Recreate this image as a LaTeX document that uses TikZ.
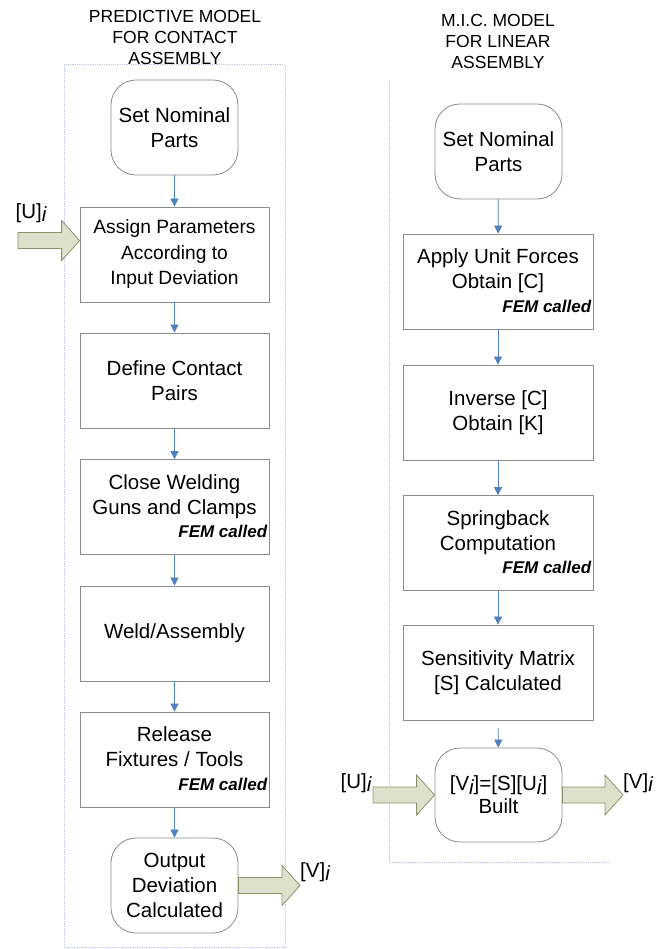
\documentclass[tikz,border=0pt]{standalone}
\usepackage{fontspec}
\setmainfont{Liberation Sans}
\usetikzlibrary{arrows.meta,calc}
\definecolor{flowblue}{RGB}{79,129,189}
\definecolor{boxgray}{RGB}{140,140,140}
\definecolor{contleft}{RGB}{190,200,235}
\definecolor{contright}{RGB}{190,190,250}
\definecolor{fatfill}{RGB}{221,224,203}
\definecolor{fatdraw}{RGB}{140,148,110}
\newcommand\subi{\raisebox{-0.3ex}{\itshape i}}
\newcommand\fatarrow[2]{\draw[fatarr] let \p1=(#1), \p2=(#2) in
  (\x1,\y1+8pt) -- (\x2-18pt,\y1+8pt) -- (\x2-18pt,\y1+20pt) -- (\x2,\y1)
  -- (\x2-18pt,\y1-20pt) -- (\x2-18pt,\y1-8pt) -- (\x1,\y1-8pt) -- cycle;}
\tikzset{
  stepbox/.style={draw=boxgray, line width=0.8pt, fill=white, align=center,
    minimum width=189pt, minimum height=95pt, inner sep=0pt,
    font=\fontsize{20.5}{25}\selectfont},
  termbox/.style={stepbox, minimum width=127pt, rounded corners=25pt},
  fem/.style={font=\fontsize{17}{20}\selectfont\bfseries\itshape, inner sep=0pt},
  title/.style={align=center, font=\fontsize{17.5}{21}\selectfont},
  io/.style={font=\fontsize{20.5}{25}\selectfont, inner sep=0pt},
  flow/.style={draw=flowblue, line width=0.7pt, -{Triangle[width=8pt,length=8pt]}, fill=flowblue},
  fatarr/.style={fill=fatfill, draw=fatdraw, line width=0.8pt},
  cont/.style={draw=contleft, densely dotted, line width=0.8pt},
  cont2/.style={draw=contright, densely dotted, line width=0.8pt}
}
\begin{document}
\begin{tikzpicture}[x=1pt,y=-1pt]
\useasboundingbox (0,0) rectangle (660,949);
% containers
\draw[cont] (64,64) rectangle (285,947);
\draw[cont2] (389,80) -- (389,862) -- (608,862);
% titles
\node[title] (tl) at (175,37) {PREDICTIVE MODEL\\FOR CONTACT\\ASSEMBLY};
\node[title] (tr) at (498,41) {M.I.C. MODEL\\FOR LINEAR\\ASSEMBLY};
% left column
\node[termbox] (lset) at (174.5,127.5) {Set Nominal\\Parts};
\node[stepbox, font=\fontsize{19.2}{25.5}\selectfont] (assign) at (174.5,254.5) {Assign Parameters\\According to\\Input Deviation};
\node[stepbox] (define) at (174.5,380.5) {Define Contact\\Pairs};
\node[stepbox] (close) at (174.5,507) {Close Welding\\Guns and Clamps\\\mbox{}};
\node[stepbox] (weld) at (174.5,633.5) {Weld/Assembly};
\node[stepbox] (release) at (174.5,759.5) {Release\\Fixtures / Tools\\\mbox{}};
\node[termbox] (output) at (174.5,885.5) {Output\\Deviation\\Calculated};
\node[fem, anchor=base east] (fem1) at ([shift={(-2pt,17pt)}]close.south east) {FEM called};
\node[fem, anchor=base east] (fem2) at ([shift={(-2pt,17pt)}]release.south east) {FEM called};
% right column
\node[termbox] (rset) at (498.5,151.5) {Set Nominal\\Parts};
\node[stepbox, minimum width=190pt] (apply) at (498,281.5) {Apply Unit Forces\\Obtain [C]\\\mbox{}};
\node[stepbox, minimum width=190pt] (inverse) at (498,412.5) {Inverse [C]\\Obtain [K]};
\node[stepbox, minimum width=190pt] (spring) at (498,543) {Springback\\Computation\\\mbox{}};
\node[stepbox, minimum width=190pt] (sens) at (498,672.5) {Sensitivity Matrix\\{}[S] Calculated};
\node[termbox, minimum height=94pt, font=\fontsize{20.5}{23}\selectfont] (built) at (498.5,795) {[V\subi]=[S][U\subi]\\Built};
\node[fem, anchor=base east] (fem3) at ([shift={(-2pt,17pt)}]apply.south east) {FEM called};
\node[fem, anchor=base east] (fem4) at ([shift={(-2pt,17pt)}]spring.south east) {FEM called};
% flow arrows
\draw[flow] (lset) -- (assign);
\draw[flow] (assign) -- (define);
\draw[flow] (define) -- (close);
\draw[flow] (close) -- (weld);
\draw[flow] (weld) -- (release);
\draw[flow] (release) -- (output);
\draw[flow] (rset) -- (apply);
\draw[flow] (apply) -- (inverse);
\draw[flow] (inverse) -- (spring);
\draw[flow] (spring) -- (sens);
\draw[flow, shorten <=8pt] (sens) -- (built);
% input / output fat arrows
\coordinate (uTail) at (18,240.5);
\coordinate (uTip) at ([yshift=14pt]assign.west);
\fatarrow{uTail}{uTip}
\coordinate (vTip) at (300,885.5);
\fatarrow{output.east}{vTip}
\coordinate (ruTail) at (373,795);
\fatarrow{ruTail}{built.west}
\coordinate (rvTip) at (623,795);
\fatarrow{built.east}{rvTip}
% labels
\node[io] (ul) at (31,213) {[U]\subi};
\node[io] (vl) at (315,872) {[V]\subi};
\node[io] (ur) at (356,783) {[U]\subi};
\node[io] (vr) at (638,783) {[V]\subi};
\end{tikzpicture}
\end{document}
